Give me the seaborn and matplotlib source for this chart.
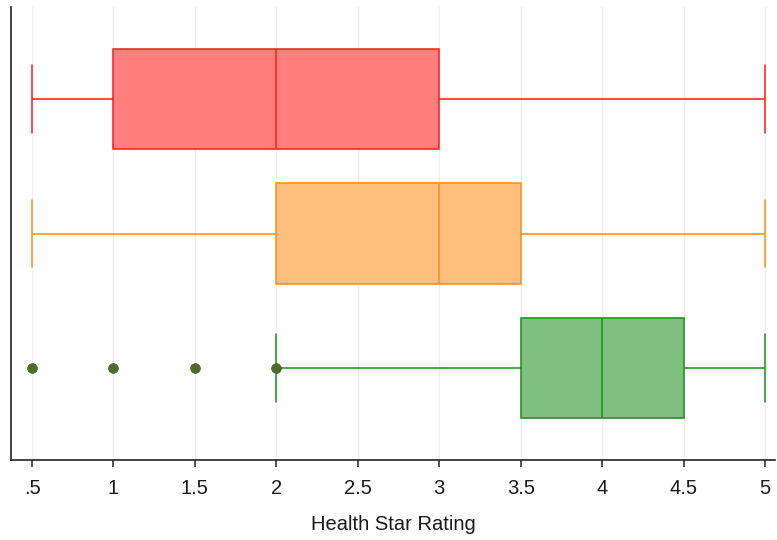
import numpy as np
import pandas as pd
import matplotlib
matplotlib.use("Agg")
import matplotlib.pyplot as plt
import seaborn as sns

# Health Star Rating observations per product group (top to bottom)
groups = ["Red", "Orange", "Green"]
red_ratings = [0.5, 1, 1, 2, 3, 3, 5]
orange_ratings = [0.5, 2, 2, 3, 3.5, 3.5, 5]
green_ratings = [0.5, 1, 1.5, 2, 3.5, 3.5, 3.5, 3.5, 4, 4, 4.5, 4.5, 4.5,
                 4.5, 4.5, 5, 5]
# points drawn as markers for the green group
green_markers = [0.5, 1, 1.5, 2]

tick_values = [0.5, 1, 1.5, 2, 2.5, 3, 3.5, 4, 4.5, 5]
tick_labels = [".5", "1", "1.5", "2", "2.5", "3", "3.5", "4", "4.5", "5"]

face_colors = ["#FF7F7F", "#FFBF7F", "#7FBF7F"]
edge_colors = ["#FF1A1A", "#FF8C1A", "#1E8C1E"]
marker_color = "#4E6B2A"

df = pd.DataFrame({
    "group": (["Red"] * len(red_ratings) + ["Orange"] * len(orange_ratings)
              + ["Green"] * len(green_ratings)),
    "rating": red_ratings + orange_ratings + green_ratings,
})
pts = pd.DataFrame({"group": ["Green"] * len(green_markers),
                    "rating": green_markers})

sns.set_style("white")
plt.rcParams["font.family"] = ["Liberation Sans", "DejaVu Sans"]

fig = plt.figure(figsize=(7.77, 5.40), dpi=100)
ax = fig.add_axes([11 / 777, 80 / 540, 764 / 777, 453 / 540])

ax.set_xlim(0.371, 5.061)
ax.set_ylim(2.684, -0.684)
for v in tick_values:
    ax.axvline(v, color="#E9F0F2", lw=1.0, zorder=0)

for i, g in enumerate(groups):
    sub = df[df["group"] == g]
    sns.boxplot(data=sub, x="rating", y="group", order=groups, orient="h",
                width=0.75, whis=1.5, showfliers=False, ax=ax,
                capwidths=0.5,
                boxprops=dict(facecolor=face_colors[i], edgecolor=edge_colors[i],
                              linewidth=1.1),
                medianprops=dict(color=edge_colors[i], linewidth=1.1),
                whiskerprops=dict(color=edge_colors[i], linewidth=1.1),
                capprops=dict(color=edge_colors[i], linewidth=1.1))

sns.scatterplot(data=pts, x="rating", y="group", ax=ax, color=marker_color,
                s=50, marker="o", edgecolor=marker_color, linewidth=0.5,
                zorder=5)

ax.set_ylim(2.684, -0.684)
ax.set_xlim(0.371, 5.061)
ax.set_xticks(tick_values)
ax.set_xticklabels(tick_labels, fontsize=14.5, color="#1A1A1A")
ax.set_yticks([])
ax.set_ylabel("")
ax.set_xlabel("Health Star Rating", fontsize=14.5, color="#1A1A1A", labelpad=12)
ax.tick_params(axis="x", which="both", bottom=True, length=5, width=1.1,
               color="#222222", pad=9)

for side in ["top", "right"]:
    ax.spines[side].set_visible(False)
for side in ["left", "bottom"]:
    ax.spines[side].set_color("#222222")
    ax.spines[side].set_linewidth(1.2)

fig.savefig("out.png", dpi=100)
